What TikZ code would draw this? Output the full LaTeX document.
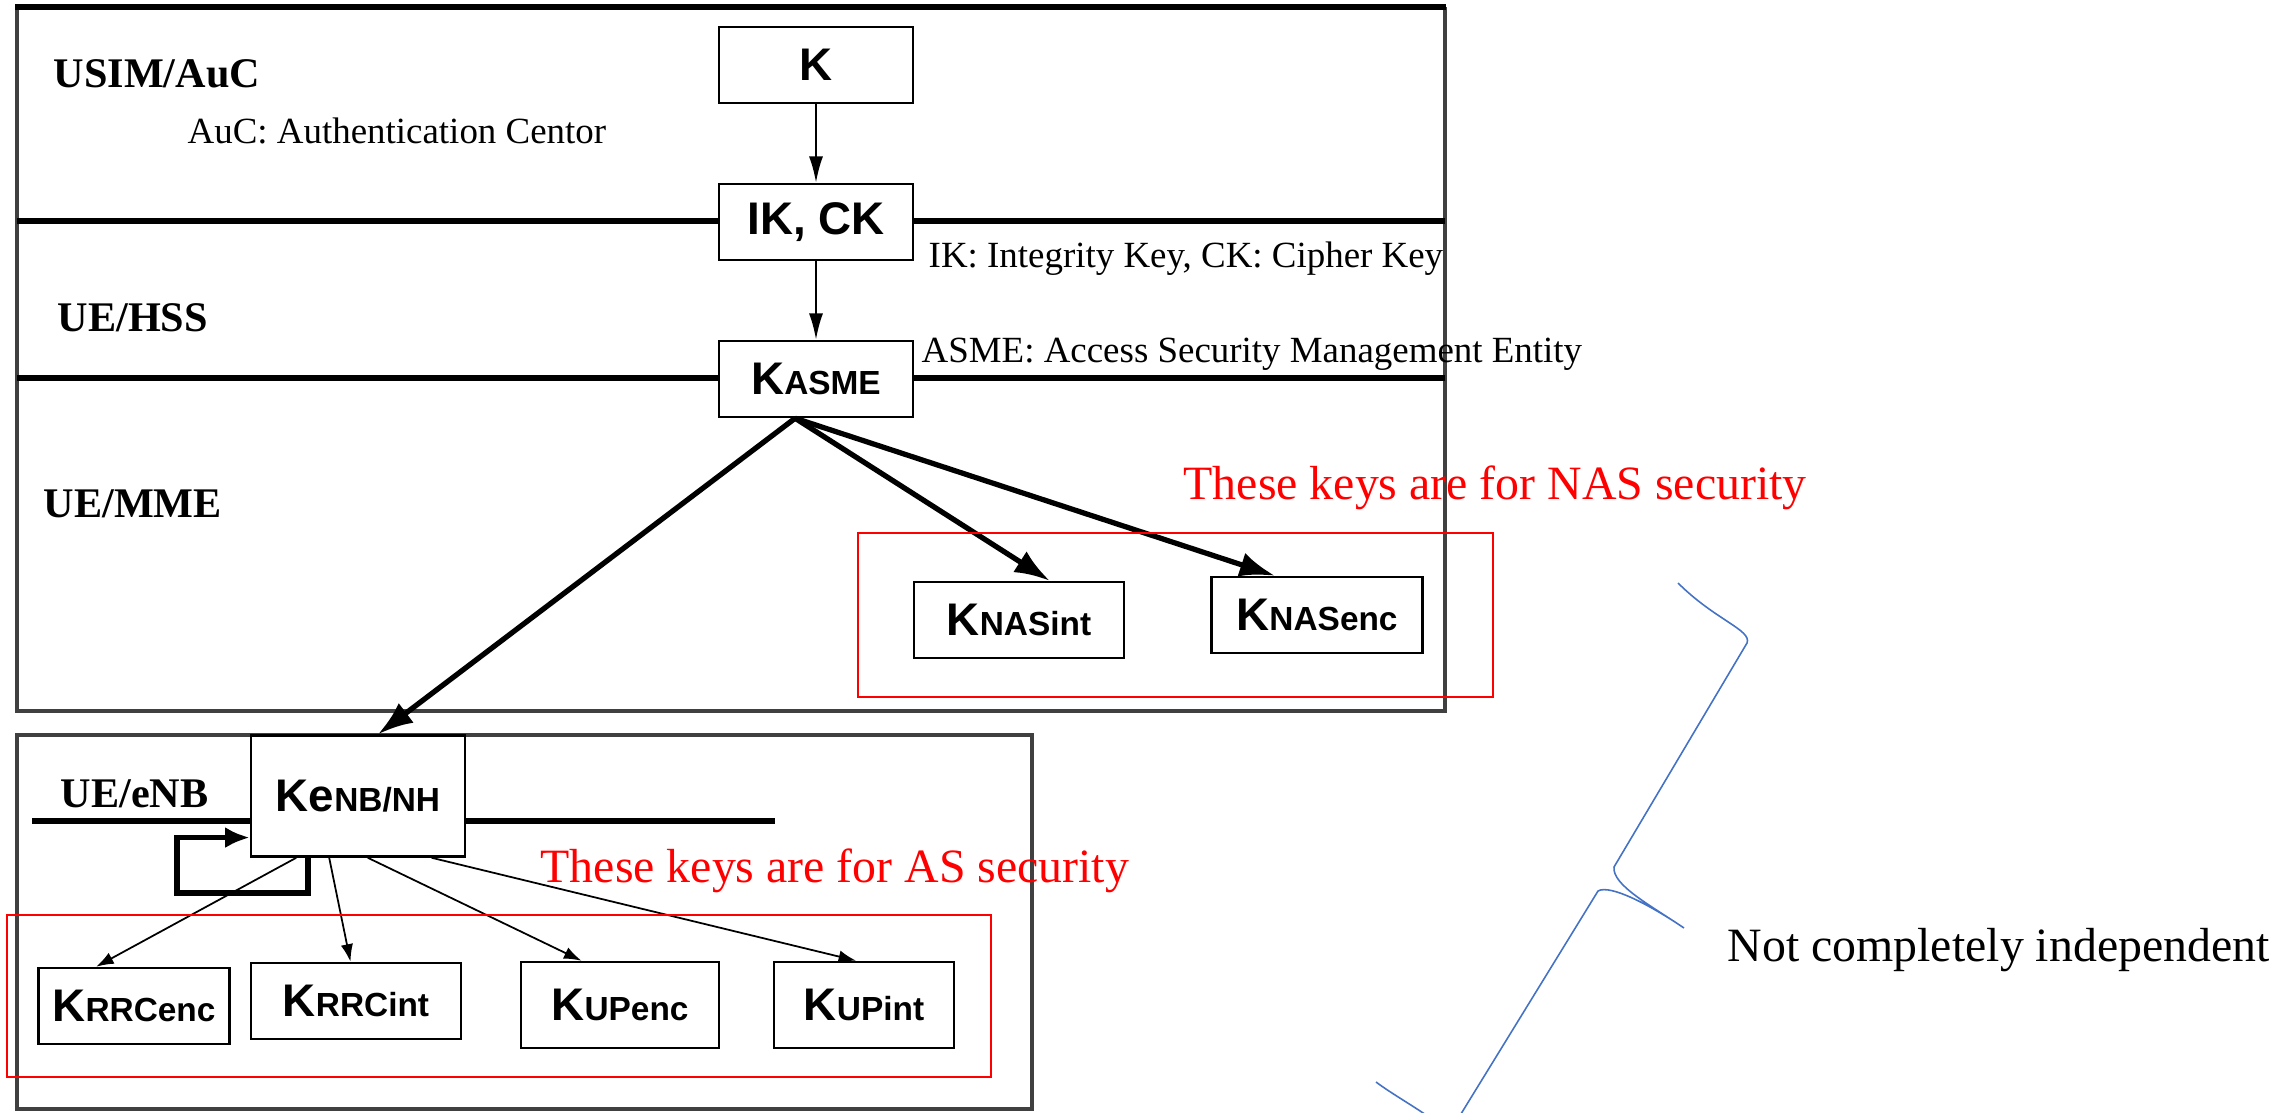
\documentclass[tikz,border=0pt]{standalone}
\usepackage{fontspec}
\setmainfont{Liberation Serif}
\newfontfamily\keyfont{Liberation Sans}
\usetikzlibrary{arrows.meta}

\definecolor{bracecol}{HTML}{4472C4}

% key name: big letters, then the smaller part on the same baseline
\newcommand{\keylabel}[2]{#1{\fontsize{9.5}{10}\selectfont #2}}

\tikzset{
    keybox/.style={draw, fill=white, line width=0.7pt, inner sep=0pt,
        minimum height=0.76cm,
        font={\keyfont\bfseries\fontsize{13}{14}\selectfont}},
    region/.style={anchor=base west, inner sep=0pt,
        font={\bfseries\fontsize{12}{14}\selectfont}},
    note/.style={anchor=base west, inner sep=0pt,
        font={\fontsize{10.5}{12}\selectfont}},
    remark/.style={anchor=base west, inner sep=0pt, text=red,
        font={\fontsize{13.6}{16}\selectfont}},
    divider/.style={line width=1.7pt},
    frame/.style={line width=0.9pt, draw=black!75},
    redframe/.style={draw=red, line width=0.6pt},
    derive/.style={-{Latex[length=7.5pt,width=4pt]}, line width=0.6pt},
    fanout/.style={-{Latex[length=10pt,width=7pt]}, line width=1.5pt},
    split/.style={-{Latex[length=5pt,width=3.5pt]}, line width=0.5pt},
    loopback/.style={-{Latex[length=7pt,width=6pt]}, line width=1.5pt}
}

\begin{document}
\begin{tikzpicture}[x=0.01cm, y=-0.01cm]
    \useasboundingbox (0,0) rectangle (2295,1113);

    % upper frame with its layers
    \draw[frame] (17,7) -- (17,711) -- (1445,711) -- (1445,7);
    \draw[divider] (15,7) -- (1446,7);
    \draw[divider] (17,221) -- (1445,221);
    \draw[divider] (17,378) -- (1445,378);

    % lower frame
    \draw[frame] (17,735) rectangle (1032,1109);
    \draw[divider] (32,821) -- (775,821);

    \node[region] (usim) at (53,88) {USIM/AuC};
    \node[region] (hss) at (57,332) {UE/HSS};
    \node[region] (mme) at (43,518) {UE/MME};
    \node[region] (enb) at (60,807) {UE/eNB};

    \node[note] (aucnote) at (187,144) {AuC: Authentication Centor};
    \node[note] (iknote) at (928,268) {IK: Integrity Key, CK: Cipher Key};
    \node[note] (asmenote) at (921,363) {ASME: Access Security Management Entity};

    \node[keybox, minimum width=1.94cm] (K) at (816,65) {K};
    \node[keybox, minimum width=1.94cm] (IKCK) at (816,222) {IK, CK};
    \node[keybox, minimum width=1.94cm] (KASME) at (816,379) {\keylabel{K}{ASME}};
    \node[keybox, minimum width=2.10cm] (KNASint) at (1019,620) {\keylabel{K}{NASint}};
    \node[keybox, minimum width=2.11cm] (KNASenc) at (1317,615) {\keylabel{K}{NASenc}};

    \node[keybox, minimum width=2.14cm, minimum height=1.21cm] (KeNB) at (358,796) {\keylabel{Ke}{NB/NH}};
    \node[keybox, minimum width=1.91cm] (KRRCenc) at (134,1006) {\keylabel{K}{RRCenc}};
    \node[keybox, minimum width=2.10cm] (KRRCint) at (356,1001) {\keylabel{K}{RRCint}};
    \node[keybox, minimum width=1.98cm, minimum height=0.86cm] (KUPenc) at (620,1005) {\keylabel{K}{UPenc}};
    \node[keybox, minimum width=1.80cm, minimum height=0.86cm] (KUPint) at (864,1005) {\keylabel{K}{UPint}};

    \draw[derive] (K) -- (IKCK);
    \draw[derive] (IKCK) -- (KASME);

    \draw[fanout] (KASME.242) -- (KNASint.52);
    \draw[fanout] (KASME.242) -- (KNASenc.137);
    \draw[fanout] (KASME.242) -- (KeNB.72);

    \coordinate (loopturn) at (177,893);
    \draw[loopback] (KeNB.231) |- (loopturn) |- (KeNB.201);

    \draw[split] (KeNB.225) -- (KRRCenc.134);
    \draw[split] (KeNB.245) -- (KRRCint.98);
    \draw[split] (KeNB.279) -- (KUPenc.131);
    \draw[split] (KeNB.320) -- (KUPint.100);

    % groups of keys
    \draw[redframe] (858,533) rectangle (1493,697);
    \draw[redframe] (7,915) rectangle (991,1077);
    \node[remark] (nasnote) at (1183,500) {These keys are for NAS security};
    \node[remark] (asnote) at (540,882) {These keys are for AS security};

    % brace
    \begin{scope}
        \clip (0,0) rectangle (2295,1113);
        \draw[bracecol, line width=0.45pt]
            (1678,583) .. controls (1715,620) and (1752,630) .. (1747,643)
            -- (1614,867) .. controls (1612,885) and (1650,905) .. (1684,928)
            .. controls (1650,905) and (1610,884) .. (1598,891)
            -- (1448,1135) .. controls (1440,1120) and (1400,1100) .. (1376,1082);
    \end{scope}
    \node[anchor=base west, inner sep=0pt, font={\fontsize{13.6}{16}\selectfont}] (indep) at (1727,961) {Not completely independent};
\end{tikzpicture}
\end{document}
